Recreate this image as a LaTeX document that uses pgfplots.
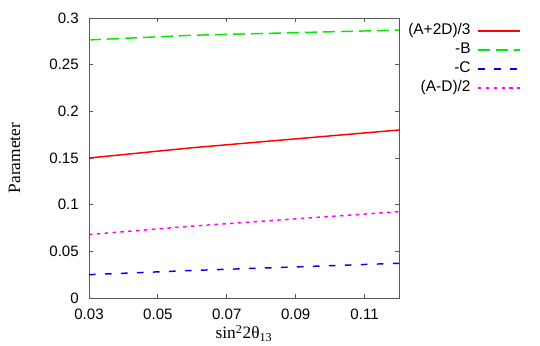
\documentclass[border=0pt]{standalone}
\usepackage{fontspec}
\setmainfont{Liberation Serif}
\newfontfamily\helv{Liberation Sans}
\usepackage{pgfplots}
\pgfplotsset{compat=1.18}
\definecolor{gpred}{RGB}{255,0,0}
\definecolor{gpgreen}{RGB}{0,235,0}
\definecolor{gpblue}{RGB}{0,0,255}
\definecolor{gpmag}{RGB}{255,0,255}

\begin{document}
\begin{tikzpicture}[x=1pt,y=1pt]
\useasboundingbox (0,0) rectangle (405,259.5);
\begin{axis}[
    at={(66.75pt,36pt)}, anchor=south west,
    scale only axis, width=232.5pt, height=210pt,
    xmin=0.03, xmax=0.12, ymin=0, ymax=0.3,
    xtick={0.03,0.05,0.07,0.09,0.11},
    ytick={0,0.05,0.1,0.15,0.2,0.25,0.3},
    scaled ticks=false,
    /pgf/number format/assume math mode=true,
    /pgf/number format/fixed,
    /pgf/number format/precision=3,
    tick label style={font=\helv\fontsize{11.3}{13}\selectfont},
    yticklabel style={inner sep=0pt, xshift=-7.5pt},
    xticklabel style={inner sep=0pt, yshift=-8pt},
    tick align=inside, major tick length=3pt,
    axis line style={black!65, line width=0.6pt},
    every tick/.style={black!65, line width=0.6pt},
    xlabel={sin\textsuperscript{2}2θ\textsubscript{13}},
    ylabel={Parameter},
    label style={font=\fontsize{13}{15}\selectfont},
    xlabel style={at={(axis description cs:0.5,-0.146)}, anchor=base},
    ylabel style={at={(axis description cs:-0.24,0.5)}, anchor=center},
    legend plot pos=right,
    legend cell align=right,
    legend image code/.code={\draw[#1] (0pt,0pt) -- (31.5pt,0pt);},
    legend style={draw=none, fill=none, inner sep=0pt,
        at={(axis description cs:1.3935,0.985)}, anchor=north east,
        font=\helv\fontsize{11.6}{13}\selectfont, row sep=1.75pt,
        column sep=4pt,
        nodes={text height=8pt, text depth=2.5pt, inner sep=1pt}},
]
\addplot[color=gpred, line width=1.1pt] coordinates {
    (0.03,0.150) (0.06,0.161) (0.09,0.1705) (0.12,0.180)
};
\addlegendentry{(A+2D)/3}
\addplot[color=gpgreen, line width=1.1pt, dash pattern=on 9pt off 4.5pt] coordinates {
    (0.03,0.2765) (0.06,0.2815) (0.09,0.2843) (0.12,0.287)
};
\addlegendentry{-B}
\addplot[color=gpblue, line width=1.1pt, dash pattern=on 5pt off 7pt] coordinates {
    (0.03,0.025) (0.06,0.0295) (0.09,0.0333) (0.12,0.0372)
};
\addlegendentry{-C}
\addplot[color=gpmag, line width=1.1pt, dash pattern=on 2.6pt off 3.3pt] coordinates {
    (0.03,0.068) (0.06,0.077) (0.09,0.0848) (0.12,0.0925)
};
\addlegendentry{(A-D)/2}
\end{axis}
\end{tikzpicture}
\end{document}
